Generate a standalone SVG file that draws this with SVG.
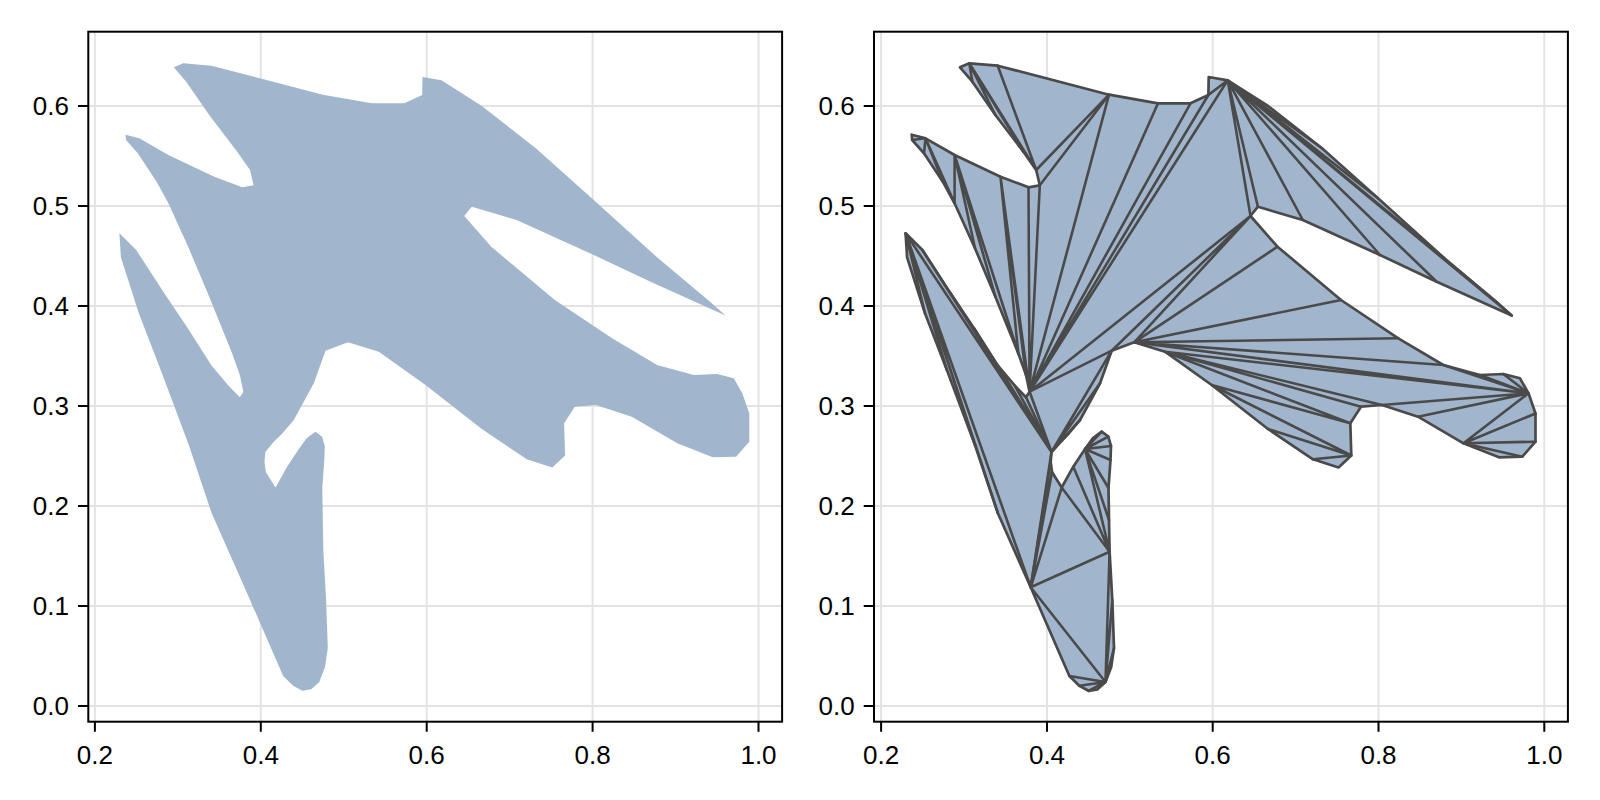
<svg xmlns="http://www.w3.org/2000/svg" xmlns:xlink="http://www.w3.org/1999/xlink" width="1600" height="800" viewBox="0 0 1600 800">
<style>
.bg{fill:#ffffff}
.grid{stroke:#000;stroke-opacity:0.11;stroke-width:2;fill:none}
.frame{fill:none;stroke:#000;stroke-width:2}
.tick{stroke:#000;stroke-width:2}
.lbl{font-family:"Liberation Sans",Arial,sans-serif;font-size:26px;fill:#000}
.ylbl{text-anchor:end}
.xlbl{text-anchor:middle}
.shape{fill:#a1b6cd;stroke:none}
.tri{fill:#a1b6cd;stroke:#4a4a4a;stroke-width:2.7;stroke-linejoin:round}
.edge{fill:none;stroke:#4a4a4a;stroke-width:2.6;stroke-linecap:round}
</style>
<defs>
<polygon id="poly" points="960,67.3 969.3,63.3 997.7,65.7 1109,94.7 1158,103.3 1190.5,103.3 1208.4,95 1208.7,77 1227.7,80.3 1268,106 1322,148.3 1378,198.3 1444.4,258.3 1498,303.3 1511.7,315.5 1436.7,281.7 1380,255 1302.8,220 1257.9,206.7 1250.5,216 1277.5,246.7 1341,300 1398.3,338.3 1443.3,365 1480,375 1503.3,374 1520,378.3 1528.5,393.3 1535.5,413.5 1535.5,441.7 1522.3,456.7 1499,457.3 1463.5,443.3 1418,416.7 1382,405 1361,406.7 1350.3,423.3 1351.3,455.5 1338.5,467.5 1313,459.3 1268,429 1211.7,385 1165,351.7 1134.2,342.3 1111.7,350.7 1100,383.3 1080,420 1068.5,433.5 1060,441.7 1051.5,452 1050.7,462 1052,472 1061.7,487.5 1073.3,466.7 1085,449 1093,438 1101.7,431.7 1108.3,436.7 1111,446 1110.5,460 1108.5,488 1109,520 1109.6,551.7 1112.3,600 1114,648 1111.2,667 1105.5,682 1097.5,689.3 1088.5,690.8 1079.3,685.7 1069.4,676 1030.7,587.3 997.9,513.3 975,445 946.9,370 925,313.3 907.1,257.3 905.6,233.3 922.4,250 949.5,291.7 974,328.3 997.9,365.7 1014.8,385.7 1026,397.3 1029.6,391.7 1026,375 1018.3,353.3 995.4,296.7 975,248.3 954.6,203.3 942.8,181.7 924,153.3 912.2,140 911.7,134.7 925.5,138.3 954.6,155 1000.5,176.7 1028.5,187.3 1039.8,185.3 1036.2,170 1023.4,151.7 995.4,115 972.4,81.7"/>
</defs>
<rect class="bg" x="0" y="0" width="1600" height="800"/>

<g id="axis-left">
<path class="grid" d="M94.9 31.7V721.7M260.8 31.7V721.7M426.7 31.7V721.7M592.6 31.7V721.7M758.5 31.7V721.7M88.3 106H782.1M88.3 206H782.1M88.3 306H782.1M88.3 406H782.1M88.3 506H782.1M88.3 606H782.1M88.3 706H782.1"/>
</g>
<g id="axis-right">
<path class="grid" d="M881.1 31.7V721.7M1047 31.7V721.7M1212.7 31.7V721.7M1378.5 31.7V721.7M1544.3 31.7V721.7M874 106H1567.9M874 206H1567.9M874 306H1567.9M874 406H1567.9M874 506H1567.9M874 606H1567.9M874 706H1567.9"/>
</g>

<g id="polygon-left">
<use xlink:href="#poly" href="#poly" class="shape" transform="translate(-786.2,0)"/>
</g>
<g id="polygon-right">
<use xlink:href="#poly" href="#poly" class="tri"/>
</g>

<g id="connectors">
<path class="edge" d="M969.3 63.3L972.4 81.7M969.3 63.3L995.4 115M969.3 63.3L1023.4 151.7M969.3 63.3L1036.2 170M997.7 65.7L1036.2 170M1036.2 170L1109 94.7M1039.8 185.3L1109 94.7"/>
<path class="edge" d="M912.2 140L925.5 138.3M924 153.3L925.5 138.3M942.8 181.7L925.5 138.3M954.6 203.3L925.5 138.3M954.6 203.3L954.6 155M975 248.3L954.6 155M995.4 296.7L954.6 155M1018.3 353.3L954.6 155M1018.3 353.3L1000.5 176.7M1026 375L1000.5 176.7M1029.6 391.7L1000.5 176.7M1029.6 391.7L1028.5 187.3M1029.6 391.7L1039.8 185.3"/>
<path class="edge" d="M1029.6 391.7L1109 94.7M1029.6 391.7L1158 103.3M1029.6 391.7L1190.5 103.3M1029.6 391.7L1208.4 95M1208.4 95L1227.7 80.3M1029.6 391.7L1227.7 80.3M1029.6 391.7L1250.5 216M1227.7 80.3L1250.5 216M1227.7 80.3L1257.9 206.7M1227.7 80.3L1302.8 220M1227.7 80.3L1380 255M1227.7 80.3L1436.7 281.7M1227.7 80.3L1511.7 315.5M1227.7 80.3L1498 303.3M1227.7 80.3L1444.4 258.3M1227.7 80.3L1378 198.3M1227.7 80.3L1322 148.3"/>
<path class="edge" d="M1029.6 391.7L1111.7 350.7M1111.7 350.7L1250.5 216M1134.2 342.3L1250.5 216M1029.6 391.7L1051.5 452M1051.5 452L1111.7 350.7M1051.5 452L1100 383.3M1051.5 452L1080 420M1051.5 452L1068.5 433.5"/>
<path class="edge" d="M1134.2 342.3L1277.5 246.7M1134.2 342.3L1341 300M1134.2 342.3L1398.3 338.3M1134.2 342.3L1443.3 365M1134.2 342.3L1528.5 393.3M1443.3 365L1528.5 393.3M1480 375L1528.5 393.3M1503.3 374L1528.5 393.3M1165 351.7L1528.5 393.3M1165 351.7L1382 405M1165 351.7L1361 406.7M1165 351.7L1350.3 423.3M1211.7 385L1350.3 423.3M1211.7 385L1351.3 455.5M1268 429L1351.3 455.5M1313 459.3L1351.3 455.5M1382 405L1528.5 393.3M1418 416.7L1528.5 393.3M1463.5 443.3L1528.5 393.3M1463.5 443.3L1535.5 413.5M1463.5 443.3L1535.5 441.7M1463.5 443.3L1522.3 456.7"/>
<path class="edge" d="M905.6 233.3L1051.5 452M922.4 250L1051.5 452M949.5 291.7L1051.5 452M974 328.3L1051.5 452M997.9 365.7L1051.5 452M1014.8 385.7L1051.5 452M1026 397.3L1051.5 452M1030.7 587.3L1051.5 452M905.6 233.3L925 313.3M905.6 233.3L946.9 370M905.6 233.3L975 445M905.6 233.3L997.9 513.3M905.6 233.3L1030.7 587.3"/>
<path class="edge" d="M1030.7 587.3L1050.7 462M1030.7 587.3L1052 472M1030.7 587.3L1061.7 487.5M1030.7 587.3L1109.6 551.7M1061.7 487.5L1109.6 551.7M1073.3 466.7L1109.6 551.7M1085 449L1109.6 551.7M1085 449L1109 520M1085 449L1108.5 488M1085 449L1110.5 460M1085 449L1111 446M1085 449L1108.3 436.7M1085 449L1101.7 431.7M1030.7 587.3L1105.5 682M1109.6 551.7L1105.5 682M1112.3 600L1105.5 682M1114 648L1105.5 682M1069.4 676L1105.5 682M1079.3 685.7L1105.5 682M1088.5 690.8L1105.5 682"/>
</g>

<g id="frame-left">
<rect class="frame" x="88.3" y="31.7" width="693.8" height="690"/>
<path class="tick" d="M78 106H88.3M78 206H88.3M78 306H88.3M78 406H88.3M78 506H88.3M78 606H88.3M78 706H88.3M94.9 721.7V731.7M260.8 721.7V731.7M426.7 721.7V731.7M592.6 721.7V731.7M758.5 721.7V731.7"/>
<g class="lbl ylbl">
<text x="69" y="115.3">0.6</text>
<text x="69" y="215.3">0.5</text>
<text x="69" y="315.3">0.4</text>
<text x="69" y="415.3">0.3</text>
<text x="69" y="515.3">0.2</text>
<text x="69" y="615.3">0.1</text>
<text x="69" y="715.3">0.0</text>
</g>
<g class="lbl xlbl">
<text x="94.9" y="764">0.2</text>
<text x="260.8" y="764">0.4</text>
<text x="426.7" y="764">0.6</text>
<text x="592.6" y="764">0.8</text>
<text x="758.5" y="764">1.0</text>
</g>
</g>

<g id="frame-right">
<rect class="frame" x="874" y="31.7" width="693.9" height="690"/>
<path class="tick" d="M863.7 106H874M863.7 206H874M863.7 306H874M863.7 406H874M863.7 506H874M863.7 606H874M863.7 706H874M881.1 721.7V731.7M1047 721.7V731.7M1212.7 721.7V731.7M1378.5 721.7V731.7M1544.3 721.7V731.7"/>
<g class="lbl ylbl">
<text x="854.7" y="115.3">0.6</text>
<text x="854.7" y="215.3">0.5</text>
<text x="854.7" y="315.3">0.4</text>
<text x="854.7" y="415.3">0.3</text>
<text x="854.7" y="515.3">0.2</text>
<text x="854.7" y="615.3">0.1</text>
<text x="854.7" y="715.3">0.0</text>
</g>
<g class="lbl xlbl">
<text x="881.1" y="764">0.2</text>
<text x="1047" y="764">0.4</text>
<text x="1212.7" y="764">0.6</text>
<text x="1378.5" y="764">0.8</text>
<text x="1544.3" y="764">1.0</text>
</g>
</g>
</svg>
